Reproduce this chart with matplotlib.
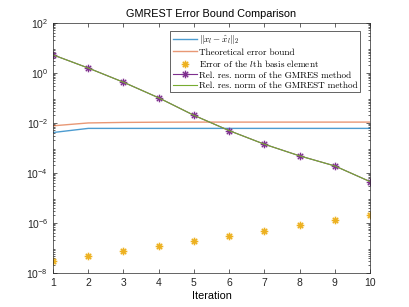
import matplotlib
matplotlib.use("Agg")
import matplotlib.pyplot as plt
from matplotlib.font_manager import FontProperties
from matplotlib.path import Path
from matplotlib.ticker import LogLocator, NullFormatter

plt.rcParams['font.family'] = 'Liberation Sans'
plt.rcParams['mathtext.fontset'] = 'custom'
plt.rcParams['mathtext.rm'] = 'Liberation Sans'
plt.rcParams['mathtext.it'] = 'Liberation Sans:italic'

# values
iters = [1, 2, 3, 4, 5, 6, 7, 8, 9, 10]
err_norm = [0.0041, 0.0060, 0.0060, 0.0060, 0.0060, 0.0060, 0.0060, 0.0060, 0.0060, 0.0060]
theo_bound = [0.0076, 0.0099, 0.0104, 0.0106, 0.0107, 0.0107, 0.0107, 0.0107, 0.0107, 0.0107]
basis_err = [3.0e-8, 4.8e-8, 7.6e-8, 1.23e-7, 1.95e-7, 3.1e-7, 4.9e-7, 8.0e-7, 1.26e-6, 2.1e-6]
gmres_res = [5.2, 1.55, 0.42, 0.10, 0.020, 0.0049, 0.0014, 4.8e-4, 1.9e-4, 4.5e-5]
gmrest_res = [5.2, 1.55, 0.42, 0.10, 0.020, 0.0049, 0.0014, 4.8e-4, 1.9e-4, 4.5e-5]

# MATLAB-style asterisk: plus and cross overlaid
d = 0.7071
star = Path([(-1, 0), (1, 0), (0, -1), (0, 1), (-d, -d), (d, d), (-d, d), (d, -d)],
            [Path.MOVETO, Path.LINETO] * 4)

fig = plt.figure(figsize=(4.09, 3.07), dpi=100)
ax = fig.add_axes([0.1296, 0.1107, 0.775, 0.8153])

ax.semilogy(iters, err_norm, color='#0072BD', lw=1.0, alpha=0.7,
            label=r'$\|x_l - \hat{x}_l\|_2$')
ax.semilogy(iters, theo_bound, color='#D95319', lw=1.0, alpha=0.6,
            label='Theoretical error bound')
ax.semilogy(iters, basis_err, ls='none', marker=star, ms=5.5, mew=1.1,
            color='#EDB120', label='Error of the $l$th basis element')
ax.semilogy(iters, gmres_res, color='#7E2F8E', lw=0.8, marker=star, ms=5.5, mew=1.0,
            label='Rel. res. norm of the GMRES method')
ax.semilogy(iters, gmrest_res, color='#77AC30', lw=0.8,
            label='Rel. res. norm of the GMREST method')

ax.set_xlim(1, 10)
ax.set_ylim(1e-8, 1e2)
ax.set_xticks(iters)
ax.set_yticks([1e-8, 1e-6, 1e-4, 1e-2, 1e0, 1e2])
ax.yaxis.set_minor_locator(LogLocator(base=10, subs=range(2, 10), numticks=100))
ax.yaxis.set_minor_formatter(NullFormatter())
ax.tick_params(which='both', direction='in', top=True, right=True,
               labelsize=7.5, width=0.5, colors='#262626')
ax.tick_params(which='major', length=3)
ax.tick_params(which='minor', length=1.5)
for s in ax.spines.values():
    s.set_linewidth(0.5)
    s.set_color('#262626')

ax.set_title('GMREST Error Bound Comparison', fontsize=7.8, pad=4)
ax.set_xlabel('Iteration', fontsize=7.8, labelpad=2)

leg_font = FontProperties(family='cmr10', size=6.6, math_fontfamily='cm')
leg = ax.legend(loc='upper right', bbox_to_anchor=(0.968, 0.967), borderaxespad=0,
                prop=leg_font, fancybox=False, edgecolor='#262626', framealpha=1,
                handlelength=2.6, handletextpad=0.25, labelspacing=0.2,
                borderpad=0.25)
leg.get_frame().set_linewidth(0.5)

fig.savefig('out.png', dpi=100)
